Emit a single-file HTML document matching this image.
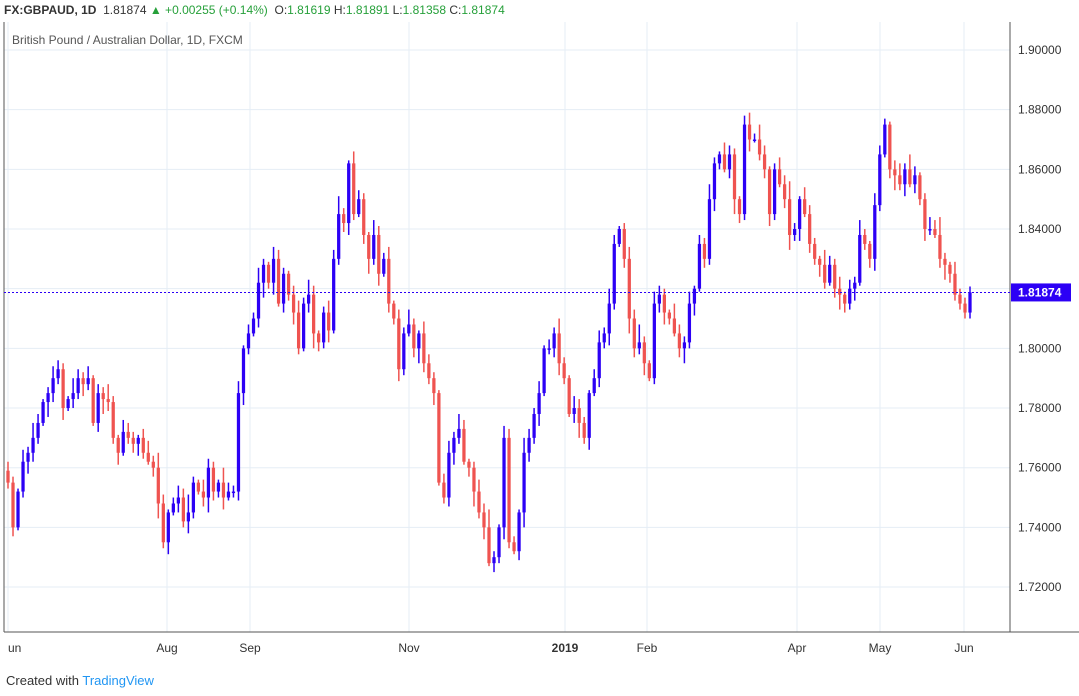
<!DOCTYPE html>
<html><head><meta charset="utf-8"><style>
body{margin:0;width:1079px;height:696px;background:#fff;font-family:"Liberation Sans",sans-serif;overflow:hidden;position:relative}
.hdr{position:absolute;left:4px;top:3px;font-size:12px;color:#333}
.g{color:#26a03a}
.ttl{position:absolute;left:12px;top:33px;font-size:12px;color:#555}
.foot{position:absolute;left:6px;top:673px;font-size:13px;color:#333}
</style></head><body>
<div class="hdr"><b>FX:GBPAUD, 1D</b>&nbsp; 1.81874 <span class="g">▲ +0.00255 (+0.14%)</span>&nbsp; O:<span class="g">1.81619</span> H:<span class="g">1.81891</span> L:<span class="g">1.81358</span> C:<span class="g">1.81874</span></div>
<svg id="chart" width="1079" height="696" style="position:absolute;left:0;top:0"></svg>
<div class="ttl">British Pound / Australian Dollar, 1D, FXCM</div>
<div class="foot">Created with <span style="color:#2196f3">TradingView</span></div>
<script>
const closes=[1.755,1.740,1.752,1.762,1.765,1.770,1.775,1.782,1.785,1.790,1.793,1.780,1.783,1.785,1.790,1.788,1.790,1.775,1.785,1.783,1.782,1.770,1.765,1.772,1.770,1.768,1.770,1.765,1.762,1.760,1.748,1.735,1.745,1.748,1.750,1.742,1.745,1.755,1.752,1.750,1.760,1.752,1.755,1.750,1.752,
1.752,1.785,1.800,1.805,1.810,1.822,1.828,1.822,1.830,1.815,1.825,1.818,1.812,1.800,1.815,1.818,1.805,1.802,1.812,1.806,1.830,1.845,1.842,1.862,1.845,1.850,1.838,1.830,1.838,1.825,1.830,1.815,1.810,1.793,1.805,1.808,1.800,1.805,1.795,1.790,1.785,1.755,1.750,1.765,1.770,1.773,1.762,1.760,1.752,1.745,1.740,1.728,1.730,1.740,1.770,1.735,1.732,1.745,1.765,1.770,1.778,1.785,1.800,1.800,1.805,1.795,1.790,1.778,1.780,1.775,1.770,1.785,1.790,1.802,1.805,1.815,1.835,1.840,1.830,1.810,1.800,1.802,1.795,1.790,1.815,1.818,1.812,1.810,1.805,1.800,1.802,1.815,1.820,1.835,1.830,1.850,1.862,1.865,1.860,1.865,1.850,1.845,1.875,1.870,1.870,1.865,1.860,1.845,1.860,1.855,1.850,1.838,1.840,1.850,1.845,1.835,1.830,1.828,1.822,1.828,1.820,1.818,1.815,1.820,1.822,1.838,1.835,1.830,1.848,1.865,1.875,1.860,1.858,1.855,1.860,1.855,1.858,1.850,1.840,1.840,1.838,1.830,1.828,1.825,1.818,1.815,1.812,1.81874];
const upWick="3214253124321532413252143213425312436214321532413252143213425312436214321532413252143213425312436214321532413252143213425312436214321532413252143213425312436214321532413252143213425312436214";
const dnWick="2312432153241324213532412342135241324213532412342135241324213532412342135241324213532412342135241324213532412342135241324213532412342135241324213532412342135241324213532412342135241324213532";
const priceTicks=[1.72,1.74,1.76,1.78,1.80,1.82,1.84,1.86,1.88,1.90];
const timeLabels=["un","Aug","Sep","Nov","2019","Feb","Apr","May","Jun"];
const timeLabelX=[8,167,250,409,565,647,797,880,964];
const lastPrice=1.81874;

const svg=document.getElementById('chart');const NS='http://www.w3.org/2000/svg';
const yS=p=>50+(1.90-p)/0.02*59.67;
const x0=8,x1=970,n=closes.length;const xS=i=>x0+i*(x1-x0)/(n-1);
function mk(t,a,parent){const e=document.createElementNS(NS,t);for(const k in a)e.setAttribute(k,a[k]);(parent||svg).appendChild(e);return e;}
priceTicks.forEach(p=>{const l=mk('line',{x1:4,x2:1010,y1:yS(p),y2:yS(p),stroke:'#e5edf5'});


const t=mk('text',{x:1018,y:yS(p)+4,'font-size':12,fill:'#333','font-family':'Liberation Sans'});t.textContent=p.toFixed(5);

});
timeLabels.forEach((s,k)=>{const x=timeLabelX[k];const l=mk('line',{x1:x,x2:x,y1:22,y2:632,stroke:'#e5edf5'});


const t=mk('text',{x:x,y:652,'font-size':12,fill:'#333','text-anchor':k==0?'start':'middle','font-weight':s=='2019'?'bold':'normal','font-family':'Liberation Sans'});t.textContent=s;

});
const ax=mk('path',{d:'M1010,22V632M4,632H1079M4,22V632',stroke:'#555',fill:'none','stroke-width':1});


const bw=Math.max(2,(x1-x0)/(n-1)*0.65);
for(let i=0;i<n;i++){const c=closes[i];const o=i?closes[i-1]:c+0.004;const up=c>=o;const col=up?'#2c00f5':'#ef5350';
const hi=Math.max(o,c)+(+upWick[i]||2)*0.001,lo=Math.min(o,c)-(+dnWick[i]||2)*0.001;const x=xS(i);
const g=mk('g',{});


mk('line',{x1:x,x2:x,y1:yS(hi),y2:yS(lo),stroke:col,'stroke-width':1.5},g);
const top=yS(Math.max(o,c)),h=Math.max(1.5,yS(Math.min(o,c))-top);
mk('rect',{x:x-bw/2,y:top,width:bw,height:h,fill:col},g);}
const ly=yS(lastPrice);
const pl=mk('line',{x1:4,x2:1010,y1:ly,y2:ly,stroke:'#2c00f5','stroke-dasharray':'2,2'});


const lb=mk('rect',{x:1011,y:ly-9,width:60,height:18,fill:'#2c00f5'});


const lt=mk('text',{x:1018,y:ly+4,'font-size':12,fill:'#fff','font-weight':'bold','font-family':'Liberation Sans'});lt.textContent=lastPrice.toFixed(5);


</script>
</body></html>
